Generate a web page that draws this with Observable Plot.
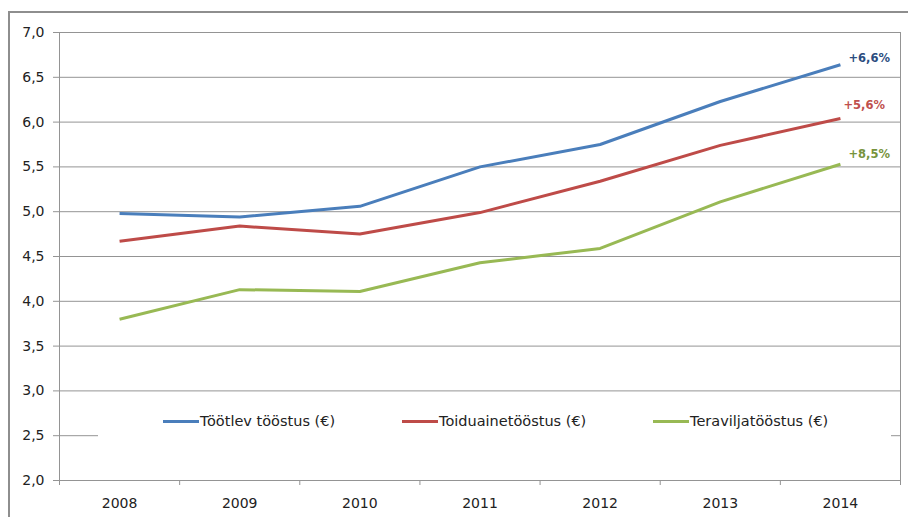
<!DOCTYPE html>
<html>
<head>
<meta charset="utf-8">
<script src="https://cdn.jsdelivr.net/npm/d3@7"></script>
<script src="https://cdn.jsdelivr.net/npm/@observablehq/plot@0.6"></script>
<style>
  html, body { margin: 0; padding: 0; background: #fff; overflow: hidden; }
  #wrap { position: relative; width: 908px; height: 517px; overflow: hidden; font-family: "DejaVu Sans", sans-serif; }
  #border { position: absolute; left: 8px; top: 11px; width: 1000px; height: 1000px; border: 2px solid #8e8e8e; box-sizing: border-box; }
  #chart { position: absolute; left: 0; top: 0; }
  #legend { position: absolute; left: 98px; top: 399px; width: 793px; height: 44px; background: #fff; }
  .item { position: absolute; top: 0; height: 44px; display: flex; align-items: center; font-size: 14.5px; color: #222; white-space: nowrap; }
  .swatch { width: 36px; height: 3px; margin-right: 1px; }
</style>
</head>
<body>
<div id="wrap">
  <div id="border"></div>
  <div id="chart"></div>
  <div id="legend"></div>
</div>
<script>
const years = [2008, 2009, 2010, 2011, 2012, 2013, 2014];
const seriesNames = ["Töötlev tööstus (€)", "Toiduainetööstus (€)", "Teraviljatööstus (€)"];
const tootlev = [4.98, 4.94, 5.06, 5.50, 5.75, 6.23, 6.64];
const toiduaine = [4.67, 4.84, 4.75, 4.99, 5.34, 5.74, 6.04];
const teravilja = [3.80, 4.13, 4.11, 4.43, 4.59, 5.11, 5.53];
const endLabels = ["+6,6%", "+5,6%", "+8,5%"];
const yTicks = [2.0, 2.5, 3.0, 3.5, 4.0, 4.5, 5.0, 5.5, 6.0, 6.5, 7.0];

const lineColors = ["#4a7ebb", "#be4b48", "#98b954"];
const labelColors = ["#2c4d7f", "#c0504d", "#77933c"];
const labelOffsets = [[8, -6], [3, -13], [8, -10]];

const valuesBySeries = [tootlev, toiduaine, teravilja];
const data = [];
valuesBySeries.forEach((vals, s) => {
  vals.forEach((v, i) => data.push({series: seriesNames[s], year: years[i], value: v}));
});
const boundaries = [years[0] - 0.5, ...years.map(y => y + 0.5)];
const gridColor = "#949494";

const marks = [
  Plot.ruleY(yTicks, {stroke: gridColor, strokeWidth: 1}),
  Plot.ruleX([boundaries[0], boundaries[boundaries.length - 1]], {stroke: gridColor, strokeWidth: 1}),
  Plot.axisY({ticks: yTicks, tickSize: 6, tickPadding: 9, stroke: gridColor, fill: "#222", label: null,
    tickFormat: d => d.toFixed(1).replace(".", ",")}),
  Plot.axisX({ticks: boundaries, tickSize: 5, stroke: gridColor, label: null, tickFormat: () => ""}),
  Plot.axisX({ticks: years, tickSize: 0, tickPadding: 18, fill: "#222", label: null, tickFormat: d => String(d)}),
  Plot.line(data, {x: "year", y: "value", z: "series", stroke: "series", strokeWidth: 3, strokeLinejoin: "round", strokeLinecap: "butt"})
];
valuesBySeries.forEach((vals, s) => {
  marks.push(Plot.text([{year: years[years.length - 1], value: vals[vals.length - 1]}], {
    x: "year", y: "value", text: () => endLabels[s], textAnchor: "start",
    dx: labelOffsets[s][0], dy: labelOffsets[s][1], fill: labelColors[s],
    fontWeight: "bold", fontSize: 11.5
  }));
});

const chart = Plot.plot({
  width: 908,
  height: 517,
  marginLeft: 59,
  marginRight: 8,
  marginTop: 32,
  marginBottom: 37,
  style: {fontFamily: "DejaVu Sans, sans-serif", fontSize: "14px", background: "transparent", color: "#222"},
  x: {type: "linear", domain: [boundaries[0], boundaries[boundaries.length - 1]], axis: null, label: null},
  y: {domain: [2, 7], axis: null, label: null},
  color: {domain: seriesNames, range: lineColors},
  marks
});
document.getElementById("chart").appendChild(chart);

const legend = document.getElementById("legend");
const itemLefts = [65, 304, 555];
seriesNames.forEach((name, i) => {
  const item = document.createElement("div");
  item.className = "item";
  item.style.left = itemLefts[i] + "px";
  const sw = document.createElement("span");
  sw.className = "swatch";
  sw.style.background = lineColors[i];
  const tx = document.createElement("span");
  tx.textContent = name;
  item.appendChild(sw);
  item.appendChild(tx);
  legend.appendChild(item);
});
</script>
</body>
</html>
